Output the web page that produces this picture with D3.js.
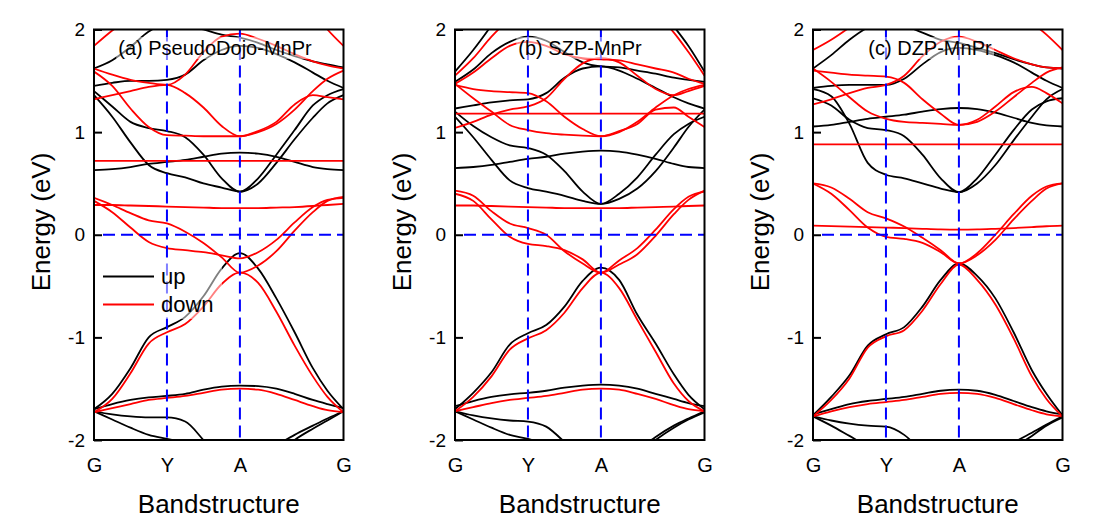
<!DOCTYPE html>
<html>
<head>
<meta charset="utf-8">
<script src="https://cdn.jsdelivr.net/npm/d3@7"></script>
<style>
  body { margin: 0; background: #fff; }
  svg { font-family: "Liberation Sans", Arial, sans-serif; }
</style>
</head>
<body>
<svg id="chart" width="1097" height="524"></svg>
<script>
// k-path: G -> Y -> A -> G (path length units)
const kPoints = [0, 0.25, 0.5, 0.75, 1, 1.25, 1.5, 1.75, 2, 2.25, 2.5, 2.75, 3.0, 3.2, 3.42];
const kTicks = [0, 1, 2, 3.42];
const kLabels = ["G", "Y", "A", "G"];
const energyTicks = [-2, -1, 0, 1, 2];

// (a) PseudoDojo-MnPr
const upA = [
  [-1.70, -1.65, -1.61, -1.585, -1.57, -1.55, -1.51, -1.48, -1.47, -1.475, -1.50, -1.55, -1.61, -1.65, -1.69],
  [-1.70, -1.55, -1.30, -1.00, -0.90, -0.80, -0.60, -0.33, -0.18, -0.33, -0.62, -0.95, -1.30, -1.52, -1.70],
  [-1.72, -1.75, -1.77, -1.78, -1.78, -1.82, -2.00, -2.20, -2.30, -2.25, -2.06, -1.95, -1.86, -1.79, -1.72],
  [-1.72, -1.80, -1.88, -1.95, -1.99, -2.03, -2.10, -2.20, -2.30, -2.30, -2.15, -2.00, -1.89, -1.81, -1.72],
  [1.40, 1.25, 1.10, 1.04, 1.01, 0.95, 0.78, 0.55, 0.42, 0.55, 0.78, 1.02, 1.26, 1.36, 1.42],
  [1.36, 1.15, 0.90, 0.68, 0.60, 0.56, 0.50, 0.46, 0.42, 0.50, 0.70, 0.93, 1.14, 1.28, 1.36],
  [0.63, 0.64, 0.66, 0.69, 0.71, 0.73, 0.76, 0.79, 0.80, 0.79, 0.76, 0.71, 0.66, 0.64, 0.63],
  [1.45, 1.48, 1.50, 1.50, 1.51, 1.56, 1.70, 1.80, 1.84, 1.82, 1.76, 1.68, 1.58, 1.50, 1.43],
  [1.62, 1.70, 1.83, 1.98, 2.06, 2.04, 2.00, 1.95, 1.92, 1.87, 1.80, 1.74, 1.69, 1.66, 1.63]
];
const downA = [
  [-1.73, -1.69, -1.65, -1.61, -1.59, -1.57, -1.54, -1.51, -1.50, -1.51, -1.55, -1.61, -1.67, -1.71, -1.73],
  [-1.73, -1.60, -1.35, -1.06, -0.95, -0.87, -0.70, -0.48, -0.37, -0.47, -0.75, -1.08, -1.38, -1.58, -1.73],
  [0.36, 0.29, 0.21, 0.14, 0.11, 0.03, -0.08, -0.22, -0.37, -0.30, -0.16, 0.04, 0.22, 0.33, 0.37],
  [0.33, 0.22, 0.07, -0.07, -0.13, -0.15, -0.17, -0.20, -0.23, -0.17, -0.05, 0.12, 0.27, 0.34, 0.36],
  [0.29, 0.29, 0.285, 0.28, 0.275, 0.27, 0.265, 0.26, 0.26, 0.26, 0.265, 0.27, 0.28, 0.29, 0.30],
  [0.72, 0.72, 0.72, 0.72, 0.72, 0.72, 0.72, 0.72, 0.72, 0.72, 0.72, 0.72, 0.72, 0.72, 0.72],
  [1.59, 1.45, 1.23, 1.05, 0.97, 0.965, 0.96, 0.96, 0.96, 1.00, 1.08, 1.22, 1.40, 1.52, 1.60],
  [1.32, 1.36, 1.40, 1.44, 1.46, 1.38, 1.24, 1.06, 0.96, 1.01, 1.10, 1.27, 1.36, 1.34, 1.32],
  [1.62, 1.56, 1.51, 1.48, 1.46, 1.56, 1.78, 1.93, 1.96, 1.91, 1.84, 1.76, 1.69, 1.65, 1.62],
  [1.84, 1.99, 2.12, 2.25, 2.30, 2.35, 2.35, 2.35, 2.35, 2.35, 2.35, 2.30, 2.18, 2.00, 1.84]
];

// (b) SZP-MnPr
const upB = [
  [-1.67, -1.62, -1.58, -1.555, -1.54, -1.52, -1.49, -1.47, -1.46, -1.47, -1.50, -1.55, -1.60, -1.64, -1.67],
  [-1.70, -1.54, -1.34, -1.07, -0.96, -0.88, -0.70, -0.45, -0.32, -0.44, -0.78, -1.06, -1.36, -1.56, -1.70],
  [-1.72, -1.76, -1.79, -1.81, -1.82, -1.87, -2.02, -2.20, -2.30, -2.25, -2.10, -1.97, -1.86, -1.79, -1.72],
  [-1.72, -1.80, -1.88, -1.95, -1.99, -2.05, -2.12, -2.20, -2.30, -2.30, -2.15, -2.00, -1.88, -1.80, -1.73],
  [1.20, 1.06, 0.95, 0.87, 0.845, 0.78, 0.62, 0.42, 0.30, 0.40, 0.56, 0.78, 0.98, 1.08, 1.15],
  [1.15, 0.95, 0.73, 0.53, 0.455, 0.42, 0.38, 0.33, 0.30, 0.35, 0.45, 0.62, 0.85, 1.05, 1.22],
  [0.65, 0.66, 0.68, 0.71, 0.74, 0.76, 0.79, 0.81, 0.82, 0.81, 0.78, 0.74, 0.69, 0.66, 0.65],
  [1.23, 1.26, 1.29, 1.31, 1.32, 1.38, 1.53, 1.62, 1.64, 1.60, 1.52, 1.43, 1.34, 1.28, 1.23],
  [1.49, 1.61, 1.77, 1.88, 1.93, 1.89, 1.78, 1.68, 1.64, 1.63, 1.60, 1.57, 1.53, 1.51, 1.49],
  [1.59, 1.80, 2.04, 2.30, 2.40, 2.45, 2.45, 2.45, 2.45, 2.45, 2.45, 2.25, 2.03, 1.84, 1.59]
];
const downB = [
  [-1.72, -1.68, -1.64, -1.61, -1.59, -1.57, -1.54, -1.51, -1.50, -1.51, -1.55, -1.60, -1.66, -1.70, -1.72],
  [-1.72, -1.58, -1.38, -1.12, -1.01, -0.93, -0.76, -0.52, -0.37, -0.52, -0.83, -1.14, -1.45, -1.62, -1.72],
  [0.43, 0.38, 0.23, 0.11, 0.065, 0.00, -0.16, -0.28, -0.37, -0.29, -0.19, -0.01, 0.20, 0.34, 0.43],
  [0.40, 0.33, 0.15, -0.02, -0.09, -0.11, -0.15, -0.24, -0.37, -0.25, -0.13, 0.05, 0.25, 0.37, 0.42],
  [0.285, 0.285, 0.28, 0.275, 0.27, 0.265, 0.26, 0.26, 0.26, 0.26, 0.265, 0.27, 0.275, 0.28, 0.285],
  [1.18, 1.18, 1.18, 1.18, 1.18, 1.18, 1.18, 1.18, 1.18, 1.18, 1.18, 1.18, 1.18, 1.18, 1.18],
  [1.47, 1.33, 1.20, 1.07, 1.02, 0.99, 0.975, 0.965, 0.96, 1.00, 1.10, 1.24, 1.36, 1.42, 1.46],
  [1.46, 1.42, 1.40, 1.39, 1.38, 1.30, 1.15, 1.03, 0.96, 1.01, 1.08, 1.22, 1.24, 1.15, 1.05],
  [1.04, 1.10, 1.17, 1.22, 1.25, 1.33, 1.52, 1.67, 1.72, 1.68, 1.55, 1.42, 1.36, 1.40, 1.45],
  [1.47, 1.58, 1.72, 1.84, 1.88, 1.84, 1.76, 1.72, 1.71, 1.70, 1.66, 1.62, 1.58, 1.52, 1.47],
  [1.55, 1.72, 1.93, 2.10, 2.20, 2.25, 2.25, 2.25, 2.25, 2.25, 2.25, 2.15, 1.97, 1.78, 1.55]
];

// (c) DZP-MnPr
const upC = [
  [-1.75, -1.70, -1.65, -1.62, -1.60, -1.58, -1.55, -1.52, -1.51, -1.52, -1.56, -1.62, -1.68, -1.72, -1.75],
  [-1.76, -1.58, -1.37, -1.08, -0.97, -0.90, -0.70, -0.44, -0.28, -0.40, -0.62, -0.95, -1.32, -1.55, -1.76],
  [-1.77, -1.81, -1.84, -1.86, -1.87, -1.95, -2.12, -2.30, -2.40, -2.35, -2.20, -2.03, -1.93, -1.85, -1.77],
  [-1.77, -1.86, -1.96, -2.06, -2.12, -2.20, -2.30, -2.35, -2.40, -2.35, -2.25, -2.08, -1.96, -1.86, -1.78],
  [1.33, 1.26, 1.12, 1.04, 1.02, 0.96, 0.78, 0.55, 0.415, 0.55, 0.78, 1.02, 1.22, 1.30, 1.33],
  [1.42, 1.35, 1.08, 0.70, 0.585, 0.55, 0.50, 0.45, 0.415, 0.50, 0.68, 0.92, 1.15, 1.32, 1.42],
  [1.055, 1.07, 1.10, 1.13, 1.15, 1.17, 1.20, 1.225, 1.235, 1.225, 1.19, 1.14, 1.09, 1.065, 1.055],
  [1.43, 1.45, 1.46, 1.46, 1.46, 1.52, 1.66, 1.78, 1.82, 1.80, 1.75, 1.68, 1.58, 1.50, 1.43],
  [1.62, 1.75, 1.90, 2.02, 2.08, 2.04, 1.97, 1.90, 1.87, 1.82, 1.77, 1.71, 1.66, 1.63, 1.62]
];
const downC = [
  [-1.77, -1.72, -1.68, -1.65, -1.63, -1.61, -1.58, -1.55, -1.54, -1.55, -1.59, -1.65, -1.71, -1.75, -1.77],
  [-1.77, -1.61, -1.40, -1.10, -0.99, -0.93, -0.74, -0.48, -0.29, -0.44, -0.68, -1.01, -1.38, -1.60, -1.77],
  [0.50, 0.46, 0.35, 0.22, 0.16, 0.08, -0.03, -0.15, -0.28, -0.20, -0.05, 0.15, 0.33, 0.45, 0.50],
  [0.50, 0.40, 0.24, 0.07, -0.02, -0.04, -0.08, -0.17, -0.28, -0.18, 0.00, 0.20, 0.38, 0.47, 0.50],
  [0.088, 0.085, 0.08, 0.075, 0.07, 0.065, 0.058, 0.052, 0.05, 0.052, 0.058, 0.065, 0.075, 0.083, 0.088],
  [0.88, 0.88, 0.88, 0.88, 0.88, 0.88, 0.88, 0.88, 0.88, 0.88, 0.88, 0.88, 0.88, 0.88, 0.88],
  [1.62, 1.49, 1.34, 1.20, 1.13, 1.10, 1.09, 1.08, 1.07, 1.10, 1.20, 1.34, 1.48, 1.58, 1.63],
  [1.60, 1.58, 1.56, 1.55, 1.54, 1.48, 1.32, 1.18, 1.07, 1.12, 1.25, 1.39, 1.44, 1.38, 1.28],
  [1.27, 1.32, 1.38, 1.43, 1.46, 1.55, 1.74, 1.88, 1.93, 1.88, 1.80, 1.72, 1.66, 1.63, 1.62],
  [1.80, 1.90, 2.02, 2.15, 2.25, 2.30, 2.30, 2.30, 2.30, 2.30, 2.30, 2.25, 2.07, 1.95, 1.80]
];

const legendLabels = ["up", "down"];
const spinColors = ["#000000", "#ff0000"];

const panels = [
  { id: "a", title: "(a) PseudoDojo-MnPr", up: upA, down: downA, left: 94, titleX: 215, legend: true },
  { id: "b", title: "(b) SZP-MnPr", up: upB, down: downB, left: 455, titleX: 580, legend: false },
  { id: "c", title: "(c) DZP-MnPr", up: upC, down: downC, left: 813, titleX: 930, legend: false }
];

const svg = d3.select("#chart");
const plotW = 249.5;
const plotTop = 29.5;
const plotBottom = 440;

const y = d3.scaleLinear().domain([-2, 2]).range([plotBottom, plotTop]);

panels.forEach((p) => {
  const x = d3.scaleLinear().domain([0, 3.42]).range([p.left, p.left + plotW]);
  const g = svg.append("g");

  g.append("clipPath")
    .attr("id", "clip-" + p.id)
    .append("rect")
    .attr("x", p.left)
    .attr("y", plotTop)
    .attr("width", plotW)
    .attr("height", plotBottom - plotTop);

  const line = d3.line()
    .x((d, i) => x(kPoints[i]))
    .y((d) => y(d))
    .curve(d3.curveMonotoneX);

  const bands = g.append("g").attr("clip-path", `url(#clip-${p.id})`);

  bands.selectAll(".up")
    .data(p.up)
    .enter()
    .append("path")
    .attr("class", "up")
    .attr("d", line)
    .attr("fill", "none")
    .attr("stroke", spinColors[0])
    .attr("stroke-width", 1.8);

  bands.selectAll(".down")
    .data(p.down)
    .enter()
    .append("path")
    .attr("class", "down")
    .attr("d", line)
    .attr("fill", "none")
    .attr("stroke", spinColors[1])
    .attr("stroke-width", 1.8);

  // blue guide lines at Y, A and E = 0
  const guides = g.append("g")
    .attr("stroke", "#0000ff")
    .attr("stroke-width", 2)
    .attr("stroke-dasharray", "12,6");
  guides.selectAll("line.v")
    .data(kTicks.slice(1, 3))
    .enter()
    .append("line")
    .attr("class", "v")
    .attr("x1", (d) => x(d))
    .attr("x2", (d) => x(d))
    .attr("y1", plotTop)
    .attr("y2", plotBottom);
  guides.append("line")
    .attr("x1", x(0) + 9)
    .attr("x2", x(3.42))
    .attr("y1", y(0))
    .attr("y2", y(0));

  // title with a half transparent box behind it
  const titleBox = g.append("rect").attr("fill", "#fff").attr("fill-opacity", 0.5);
  const title = g.append("text")
    .attr("x", p.titleX)
    .attr("y", 55)
    .attr("text-anchor", "middle")
    .attr("font-size", 20)
    .attr("fill", "#000")
    .text(p.title);
  const bb = title.node().getBBox();
  titleBox.attr("x", bb.x - 2).attr("y", bb.y).attr("width", bb.width + 4).attr("height", bb.height);

  // y axis, ticks pointing inward
  const yAxis = g.append("g")
    .attr("transform", `translate(${p.left},0)`)
    .call(d3.axisLeft(y).tickValues(energyTicks).tickSize(-8).tickSizeOuter(0).tickPadding(9)
      .tickFormat((d) => String(d)));
  yAxis.select(".domain").remove();
  yAxis.selectAll(".tick line").attr("stroke-width", 2);
  yAxis.selectAll("text")
    .attr("font-size", 19)
    .attr("font-family", "Liberation Sans, Arial, sans-serif")
    .attr("fill", "#000");

  // x axis, labels only
  const xAxis = g.append("g")
    .attr("transform", `translate(0,${plotBottom})`)
    .call(d3.axisBottom(x).tickValues(kTicks).tickSize(0).tickPadding(18)
      .tickFormat((d, i) => kLabels[i]));
  xAxis.select(".domain").remove();
  xAxis.selectAll("text")
    .attr("font-size", 20)
    .attr("font-family", "Liberation Sans, Arial, sans-serif")
    .attr("fill", "#000");

  // frame
  g.append("rect")
    .attr("x", p.left)
    .attr("y", plotTop)
    .attr("width", plotW)
    .attr("height", plotBottom - plotTop)
    .attr("fill", "none")
    .attr("stroke", "#000")
    .attr("stroke-width", 2);

  g.append("text")
    .attr("transform", `translate(${p.left - 44},222) rotate(-90)`)
    .attr("text-anchor", "middle")
    .attr("font-size", 26)
    .text("Energy (eV)");

  g.append("text")
    .attr("x", p.left + plotW / 2)
    .attr("y", 513)
    .attr("text-anchor", "middle")
    .attr("font-size", 26)
    .text("Bandstructure");

  if (p.legend) {
    const leg = g.append("g");
    // legend sits on a half transparent white box, like the title
    leg.append("rect")
      .attr("x", p.left + 6)
      .attr("y", 259)
      .attr("width", 122)
      .attr("height", 60)
      .attr("fill", "#fff")
      .attr("fill-opacity", 0.5);
    legendLabels.forEach((lab, i) => {
      const ly = 276.5 + i * 28;
      leg.append("line")
        .attr("x1", p.left + 9)
        .attr("x2", p.left + 60)
        .attr("y1", ly)
        .attr("y2", ly)
        .attr("stroke", spinColors[i])
        .attr("stroke-width", 2);
      leg.append("text")
        .attr("x", p.left + 67)
        .attr("y", ly + 7)
        .attr("font-size", 22)
        .text(lab);
    });
  }
});
</script>
</body>
</html>
